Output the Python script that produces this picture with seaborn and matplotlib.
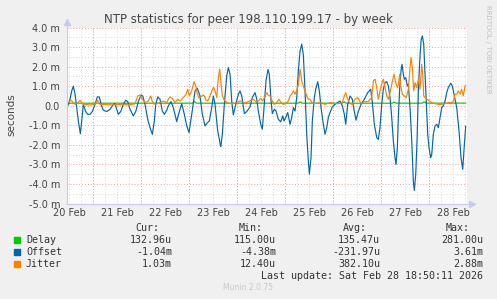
import pandas as pd
import matplotlib
matplotlib.use("Agg")
import matplotlib.pyplot as plt
import matplotlib.dates as mdates
from matplotlib.patches import Rectangle
import seaborn as sns

# hours after 20 Feb 2026 00:00, values in milliseconds
offset_h = [10.8, 11.5, 12.35, 13.2, 14.0, 14.85, 15.7, 16.5, 17.5, 18.2, 19.0, 20.2, 21.2, 22.35, 23.5,
            24.85, 26.0, 27.0, 27.85, 29.0, 30.7, 32.35, 34.0, 34.85, 35.7, 36.5, 37.7, 39.0, 40.2, 41.2,
            42.35, 44.0, 45.2, 46.5, 47.85, 48.7, 49.85, 51.2, 52.35, 53.5, 54.5, 55.2, 56.2, 57.35, 58.5,
            59.5, 60.7, 61.5, 62.85, 64.0, 65.7, 66.85, 68.2, 69.5, 70.7, 71.85, 73.2, 74.85, 76.0, 77.35,
            78.5, 79.85, 81.0, 82.0, 83.2, 84.0, 84.85, 86.2, 87.7, 88.5, 89.5, 90.7, 91.5, 92.35, 93.2,
            94.0, 95.2, 96.5, 97.35, 98.2, 99.5, 100.7, 102.35, 103.5, 104.85, 105.7, 106.5, 107.7, 108.5,
            109.35, 110.35, 111.35, 112.0, 112.85, 113.5, 114.5, 115.35, 116.5, 117.7, 118.7, 119.35, 120.2,
            121.2, 122.35, 123.2, 124.0, 124.85, 125.7, 126.5, 127.35, 128.2, 129.0, 129.85, 130.7, 131.5,
            132.0, 132.85, 133.5, 134.5, 135.2, 136.2, 137.0, 137.85, 139.0, 139.85, 140.7, 141.5, 142.35,
            143.5, 144.85, 146.2, 147.35, 148.5, 149.5, 150.2, 151.2, 152.35, 153.5, 154.5, 155.35, 156.5,
            157.85, 159.5, 161.2, 162.7, 163.5, 164.5, 165.7, 166.5, 167.35, 168.2, 169.0, 169.85, 170.7,
            171.5, 172.35, 173.2, 174.0, 174.85, 175.35, 176.0, 176.5, 177.2, 177.85, 178.35, 179.0, 179.5,
            180.2, 181.0, 181.5, 182.35, 183.2, 184.0, 184.5, 185.2, 185.85, 186.5, 187.2, 187.85, 188.5,
            189.2, 189.85, 190.7, 191.2, 191.85, 192.7, 193.2, 194.0, 194.85, 195.7, 196.5, 197.35, 198.2,
            199.0, 199.85, 200.7, 201.5, 202.7, 203.5, 204.5, 205.7, 206.85, 207.85, 208.7, 209.5, 210.2]
offset_ms = [-0.1, 0.07, 0.33, 0.76, 1.0, 0.6, -0.1, -0.78, -1.43, -0.78, 0.07, -0.3, -0.44, -0.44, -0.3,
             0.07, 0.45, 0.45, 0.07, -0.23, -0.3, -0.18, 0.07, 0.1, -0.18, -0.44, -0.3, 0.07, 0.28, 0.21,
             -0.18, -0.52, -0.3, 0.21, 0.55, 0.5, 0.07, -0.7, -1.12, -1.46, -0.78, 0.07, 0.45, 0.33, -0.27,
             -0.44, -0.23, -0.01, 0.21, -0.1, -0.81, -0.35, 0.1, -0.44, -1.03, -1.37, -0.44, 0.76, 0.9, 0.5,
             -0.44, -1.03, -0.87, -0.78, -0.1, 0.5, 0.07, -1.3, -2.1, -1.46, 0.07, 1.53, 1.95, 1.61, 0.24,
             -0.47, 0.07, 0.58, 0.76, 0.5, -0.4, -0.3, -0.06, 0.42, 0.67, 0.33, -0.27, -0.95, -1.2,
             -0.1, 1.3, 1.85, 1.6, 0.24, -0.4, -0.18, -0.27, -0.7, -0.82, -0.52, -0.78, -0.6,
             -0.35, -0.95, -0.6, -0.1, -0.27, 0.42, 1.78, 2.8, 3.15, 2.6, 0.76, -1.46, -2.83,
             -3.5, -2.66, -0.78, 0.42, 0.84, 1.23, 0.76, -0.1, -0.95, -1.46, -1.12, -0.6, -0.35,
             -0.06, 0.07, 0.16, 0.24, 0.0, -0.44, -0.95, 0.07, 0.5, 0.33, -0.3, -0.74, -0.3,
             0.07, 0.33, 0.67, 0.84, 0.16, -0.95, -1.63, -1.72, -1.12, 0.07, 0.84, 1.18, 1.23,
             1.01, 0.42, -0.6, -1.8, -2.66, -3.0, -2.15, -0.6, 0.93, 1.78, 2.12, 1.61, 1.35,
             1.44, 1.01, 1.1, -0.1, -1.8, -3.86, -4.33, -3.5, -1.8, 0.76, 2.3, 3.32, 3.57,
             3.15, 1.61, -0.27, -1.46, -2.15, -2.66, -2.5, -1.46, -1.03, -0.95, -1.12, -0.6, -0.1,
             0.0, 0.24, 0.67, 0.93, 1.15, 1.01, 0.5, -0.1, -1.3, -2.66, -3.25, -2.0, -1.04]

jitter_h = [10.8, 11.85, 12.85, 14.85, 16.35, 17.35, 19.0, 22.35, 24.85, 26.0, 27.35, 32.35, 37.35, 42.35,
            44.85, 46.2, 47.35, 48.5, 49.85, 51.5, 52.7, 53.5, 54.85, 57.35, 59.0, 60.7, 61.5, 62.35, 63.5,
            64.85, 66.2, 67.35, 69.0, 70.2, 71.2, 72.0, 73.2, 74.35, 75.2, 76.0, 76.85, 77.85, 78.7, 79.5,
            80.35, 81.2, 82.35, 83.2, 84.0, 84.85, 85.7, 86.5, 87.2, 87.85, 88.5, 89.5, 90.7, 92.35, 94.0,
            95.7, 97.35, 98.5, 99.85, 101.5, 102.85, 104.0, 105.2, 106.5, 107.7, 108.7, 109.85, 110.7,
            111.35, 112.35, 113.5, 114.5, 115.7, 116.85, 117.85, 119.0, 120.2, 121.5, 122.35, 123.2, 124.0,
            124.85, 125.7, 126.5, 127.35, 128.2, 129.0, 129.85, 130.7, 131.5, 132.35, 133.2, 134.85, 137.35,
            139.85, 142.35, 144.85, 147.35, 148.5, 149.5, 150.2, 151.2, 152.35, 153.5, 154.85, 156.2, 157.35,
            158.5, 159.5, 161.35, 163.2, 164.0, 164.85, 165.7, 166.5, 167.35, 168.2, 169.0, 169.85, 170.7,
            171.5, 172.35, 173.2, 174.35, 175.2, 176.0, 176.5, 177.2, 177.85, 178.5, 179.5, 180.5, 181.5,
            182.35, 182.85, 183.5, 184.2, 184.85, 185.7, 186.5, 187.35, 188.2, 188.7, 189.2, 189.85, 191.5,
            193.2, 194.85, 196.5, 198.2, 199.85, 201.5, 203.2, 204.0, 204.85, 205.7, 206.5, 207.35, 208.2,
            209.0, 209.85, 210.3]
jitter_ms = [0.13, 0.2, 0.28, 0.07, 0.15, 0.28, 0.07, 0.04, 0.07, 0.28, 0.07, 0.05, 0.06, 0.05,
             0.1, 0.5, 0.55, 0.33, 0.16, 0.24, 0.5, 0.21, 0.07, 0.16, 0.24, 0.16, 0.33, 0.45, 0.38,
             0.16, 0.33, 0.24, 0.42, 0.55, 0.84, 0.5, 0.76, 1.23, 1.01, 0.59, 0.38, 0.45, 0.55, 0.5,
             0.28, 0.24, 0.5, 0.76, 0.93, 0.76, 0.42, 1.44, 1.87, 1.1, 0.5, 0.28, 0.16, 0.11, 0.11,
             0.16, 0.24, 0.21, 0.14, 0.21, 0.28, 0.33, 0.21, 0.24, 0.38, 0.24, 0.5, 0.67,
             0.55, 0.5, 0.24, 0.07, 0.16, 0.33, 0.16, 0.07, 0.11, 0.24, 0.5, 0.59, 0.76,
             0.59, 0.76, 1.1, 1.87, 1.27, 1.01, 0.76, 0.5, 0.33, 0.33, 0.16, 0.11, 0.16,
             0.07, 0.16, 0.11, 0.11, 0.16, 0.5, 0.67, 0.33, 0.11, 0.07, 0.33, 0.42, 0.21,
             0.11, 0.21, 0.21, 0.42, 1.27, 1.36, 0.93, 0.33, 0.76, 1.1, 1.36, 0.93, 0.5,
             0.33, 0.67, 1.1, 1.61, 1.18, 0.93, 1.1, 1.61, 0.93, 0.59, 0.5, 0.42, 0.84,
             1.95, 2.46, 1.95, 0.76, 1.18, 0.93, 1.36, 0.84, 2.12, 1.61, 0.5, 0.42, 0.28,
             0.16, 0.11, 0.07, 0.07, 0.11, 0.16, 0.16, 0.24, 0.59, 0.59, 0.76, 0.59, 0.84,
             0.5, 1.01, 1.03]

delay_h = [10.8, 73.5, 74.5, 75.5, 126.5, 127.5, 128.5, 148.5, 149.5, 150.5, 173.5, 174.5, 175.5,
           188.5, 189.5, 190.5, 210.3]
delay_ms = [0.13, 0.13, 0.22, 0.13, 0.13, 0.2, 0.13, 0.13, 0.2, 0.13, 0.13, 0.18, 0.13,
            0.13, 0.2, 0.13, 0.133]

series_names = ["Delay", "Offset", "Jitter"]
colors = {"Delay": "#00CC00", "Offset": "#0066B3", "Jitter": "#FF8000"}

legend_rows = [
    ("Delay", "132.96u", "115.00u", "135.47u", "281.00u"),
    ("Offset", "-1.04m", "-4.38m", "-231.97u", "3.61m"),
    ("Jitter", "1.03m", "12.40u", "382.10u", "2.88m"),
]

day0 = pd.Timestamp("2026-02-20 00:00")
start = pd.Timestamp("2026-02-20 10:50")
end = pd.Timestamp("2026-02-28 18:50")

frames = []
for name, hrs, vals in [("Delay", delay_h, delay_ms), ("Offset", offset_h, offset_ms),
                        ("Jitter", jitter_h, jitter_ms)]:
    frames.append(pd.DataFrame({"time": day0 + pd.to_timedelta(hrs, unit="h"),
                                "value": vals, "series": name}))
df = pd.concat(frames, ignore_index=True)

W, H = 497, 299
BG = "#F0F0F0"


def fx(x):
    return x / W


def fy(y):
    return 1 - y / H


sns.set_style("white")
plt.rcParams["font.family"] = ["DejaVu Sans"]

fig = plt.figure(figsize=(W / 100, H / 100), dpi=100, facecolor=BG)
ax = fig.add_axes([fx(67), fy(203.5), 400 / W, 176 / H])
ax.set_facecolor("white")

sns.lineplot(data=df, x="time", y="value", hue="series", hue_order=series_names,
             palette=colors, estimator=None, legend=False, linewidth=0.85, ax=ax)

ax.set_xlim(start, end)
ax.set_ylim(-5, 4)

# grid: minor grey dotted, major red dotted
dot = (0, (1, 2))
for v in [y / 2 for y in range(-10, 9)]:
    if v == int(v):
        ax.axhline(v, color="#F2A0A0", lw=0.7, ls=dot, zorder=0)
    else:
        ax.axhline(v, color="#D8D8D8", lw=0.7, ls=dot, zorder=0)
for t in pd.date_range("2026-02-20 12:00", end, freq="6h"):
    ax.axvline(t, color="#D8D8D8", lw=0.7, ls=dot, zorder=0)
for t in pd.date_range("2026-02-21", end, freq="D"):
    ax.axvline(t, color="#F2A0A0", lw=0.7, ls=dot, zorder=0)

ax.set_yticks(range(-5, 5))
ax.set_yticklabels(["0.0" if v == 0 else f"{v:.1f} m" for v in range(-5, 5)])
ax.xaxis.set_major_locator(mdates.HourLocator(byhour=[12]))
ax.xaxis.set_major_formatter(mdates.DateFormatter("%d %b"))
ax.tick_params(axis="both", length=0, labelsize=7, labelcolor="#444444")
ax.tick_params(axis="y", pad=5)
ax.tick_params(axis="x", pad=3)
ax.set_xlabel("")
ax.set_ylabel("")

for s in ["top", "right"]:
    ax.spines[s].set_visible(False)
for s in ["left", "bottom"]:
    ax.spines[s].set_color("#C8C8F0")
    ax.spines[s].set_linewidth(0.8)
ax.plot([0], [1.03], marker="^", ms=4, color="#C8C8F0", transform=ax.transAxes, clip_on=False)
ax.plot([1.012], [0], marker=">", ms=4, color="#C8C8F0", transform=ax.transAxes, clip_on=False)
ax.plot([0, 0], [1.0, 1.03], color="#C8C8F0", lw=0.8, transform=ax.transAxes, clip_on=False)
ax.plot([1.0, 1.012], [0, 0], color="#C8C8F0", lw=0.8, transform=ax.transAxes, clip_on=False)

fig.text(fx(248), fy(19), "NTP statistics for peer 198.110.199.17 - by week", ha="center",
         va="center", fontsize=8.5, color="#444444")
fig.text(fx(11), fy(115), "seconds", rotation=90, ha="center", va="center", fontsize=7.5,
         color="#444444")
fig.text(fx(488), fy(5), "RRDTOOL / TOBI OETIKER", rotation=270, ha="center", va="top",
         fontsize=5, color="#C0C0C0")

mono = "DejaVu Sans Mono"
col_x = [172, 276, 380, 483]
for cx, head in zip([159, 263, 367, 470], ["Cur:", "Min:", "Avg:", "Max:"]):
    fig.text(fx(cx), fy(228), head, ha="right", va="center", family=mono, fontsize=7.2,
             color="#333333")
for i, (name, cur, mn, avg, mx) in enumerate(legend_rows):
    y = 240 + i * 11.8
    fig.add_artist(Rectangle((fx(14), fy(y + 3)), 6 / W, 6 / H, transform=fig.transFigure,
                             color=colors[name]))
    fig.text(fx(26), fy(y), name, ha="left", va="center", family=mono, fontsize=7.2,
             color="#333333")
    for cx, val in zip(col_x, [cur, mn, avg, mx]):
        fig.text(fx(cx), fy(y), val, ha="right", va="center", family=mono, fontsize=7.2,
                 color="#333333")
fig.text(fx(483), fy(276), "Last update: Sat Feb 28 18:50:11 2026", ha="right", va="center",
         family=mono, fontsize=7.2, color="#333333")
fig.text(fx(248), fy(288), "Munin 2.0.75", ha="center", va="center", fontsize=5.5,
         color="#C8C8C8")

fig.savefig("out.png", dpi=100, facecolor=BG)
